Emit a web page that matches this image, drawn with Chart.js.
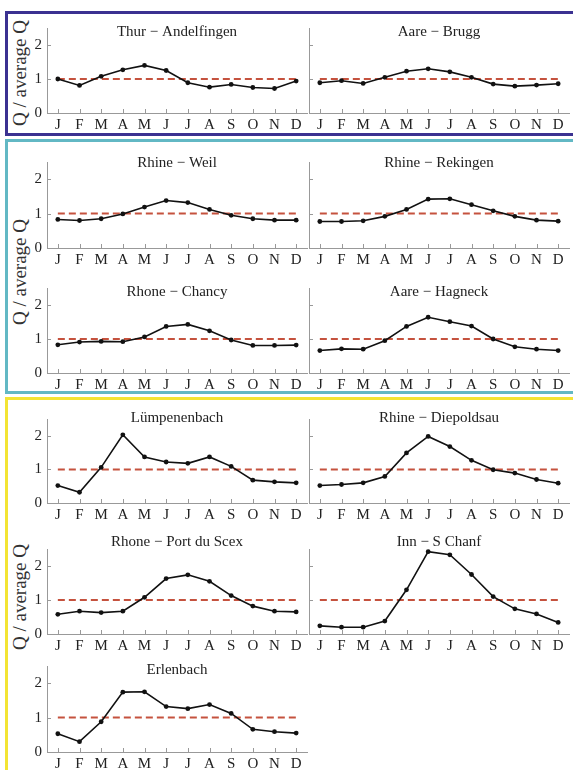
<!DOCTYPE html>
<html><head><meta charset="utf-8">
<script src="https://cdn.jsdelivr.net/npm/chart.js@4.4.0/dist/chart.umd.min.js"></script>
<style>
html,body{margin:0;padding:0;background:#fff;}
#page{position:relative;width:573px;height:770px;overflow:hidden;background:#fff;}
.frame{position:absolute;box-sizing:border-box;border:3px solid;}
.ylab{position:absolute;font-family:"Liberation Serif","Times New Roman",serif;font-size:19px;color:#333;white-space:nowrap;transform:translate(-50%,-50%) rotate(-90deg);}
canvas{position:absolute;}
</style></head><body>
<div id="page">
  <div class="frame" style="left:5px;top:11px;width:590px;height:125px;border-color:#3b3191"></div>
  <div class="frame" style="left:5px;top:139px;width:590px;height:255px;border-color:#62b8c4"></div>
  <div class="frame" style="left:5px;top:397px;width:590px;height:400px;border-color:#f3e434"></div>
  <div class="ylab" style="left:20px;top:73px">Q / average Q</div>
  <div class="ylab" style="left:20px;top:272px">Q / average Q</div>
  <div class="ylab" style="left:20px;top:597px">Q / average Q</div>
</div>
<script>
// ---- data ----
const months = ['J','F','M','A','M','J','J','A','S','O','N','D'];
const yTicks = [0, 1, 2];
const meanLine = [1,1,1,1,1,1,1,1,1,1,1,1];

const thurAndelfingen  = [1.00,0.81,1.08,1.27,1.40,1.25,0.89,0.76,0.84,0.75,0.72,0.94];
const aareBrugg        = [0.89,0.95,0.87,1.05,1.23,1.30,1.21,1.05,0.85,0.79,0.82,0.86];
const rhineWeil        = [0.83,0.80,0.85,0.99,1.19,1.38,1.32,1.12,0.95,0.85,0.81,0.81];
const rhineRekingen    = [0.77,0.77,0.79,0.92,1.12,1.42,1.43,1.26,1.08,0.92,0.81,0.78];
const rhoneChancy      = [0.83,0.91,0.93,0.92,1.06,1.37,1.43,1.24,0.97,0.81,0.81,0.82];
const aareHagneck      = [0.66,0.71,0.70,0.95,1.37,1.64,1.51,1.38,1.00,0.77,0.70,0.66];
const luempenenbach    = [0.52,0.32,1.06,2.03,1.37,1.22,1.18,1.37,1.09,0.68,0.63,0.60];
const rhineDiepoldsau  = [0.52,0.55,0.60,0.79,1.49,1.98,1.68,1.27,0.99,0.89,0.70,0.59];
const rhonePortDuScex  = [0.58,0.67,0.63,0.67,1.08,1.63,1.74,1.55,1.13,0.82,0.67,0.65];
const innSChanf        = [0.24,0.20,0.20,0.38,1.30,2.42,2.33,1.75,1.10,0.74,0.59,0.34];
const erlenbach        = [0.53,0.30,0.88,1.74,1.75,1.32,1.26,1.38,1.12,0.66,0.59,0.55];

const titles = ['Thur \u2212 Andelfingen','Aare \u2212 Brugg','Rhine \u2212 Weil','Rhine \u2212 Rekingen',
  'Rhone \u2212 Chancy','Aare \u2212 Hagneck','L\u00fcmpenenbach','Rhine \u2212 Diepoldsau',
  'Rhone \u2212 Port du Scex','Inn \u2212 S Chanf','Erlenbach'];
const series = [thurAndelfingen, aareBrugg, rhineWeil, rhineRekingen, rhoneChancy, aareHagneck,
  luempenenbach, rhineDiepoldsau, rhonePortDuScex, innSChanf, erlenbach];

// ---- layout ----
const cols = [{axisX:47}, {axisX:309}];
const rows = [
  {top:28,  bottom:113, titleY:32},
  {top:162, bottom:248, titleY:163},
  {top:288, bottom:373, titleY:292},
  {top:419, bottom:503, titleY:418},
  {top:549, bottom:634, titleY:542},
  {top:666, bottom:752, titleY:670}
];
const PLOT_W = 260, YW = 25, XH = 22, PT = 24, PR = 6;
const FONT = '"Liberation Serif","Times New Roman",serif';

const panelDecor = {
  id: 'panelDecor',
  afterDraw(chart, args, opts) {
    const ctx = chart.ctx;
    const {left, right, bottom} = chart.chartArea;
    const x = chart.scales.x, y = chart.scales.y;
    ctx.save();
    ctx.strokeStyle = '#999'; ctx.lineWidth = 1;
    ctx.beginPath();
    for (let i = 0; i < months.length; i++) {
      const px = Math.round(x.getPixelForValue(i)) + 0.5;
      ctx.moveTo(px, bottom); ctx.lineTo(px, bottom - 4);
    }
    for (const v of yTicks) {
      const py = Math.round(y.getPixelForValue(v)) + 0.5;
      ctx.moveTo(left, py); ctx.lineTo(left + 4, py);
    }
    ctx.stroke();
    ctx.fillStyle = '#222';
    ctx.font = '15px ' + FONT;
    ctx.textAlign = 'center'; ctx.textBaseline = 'middle';
    ctx.fillText(opts.title, (left + right) / 2, opts.titleY);
    ctx.restore();
  }
};

const page = document.getElementById('page');
series.forEach((data, i) => {
  const col = cols[i % 2], row = rows[Math.floor(i / 2)];
  const plotH = row.bottom - row.top;
  const cv = document.createElement('canvas');
  const W = YW + PLOT_W + PR, H = PT + plotH + XH;
  const L = col.axisX - YW, T = row.top - PT;
  cv.width = W; cv.height = H;
  cv.style.left = L + 'px'; cv.style.top = T + 'px';
  cv.style.width = W + 'px'; cv.style.height = H + 'px';
  page.appendChild(cv);
  const showY = (i % 2 === 0);
  new Chart(cv, {
    type: 'line',
    data: {
      labels: months,
      datasets: [
        {data: data, borderColor: '#111', backgroundColor: '#111', borderWidth: 1.6,
         pointRadius: 2.4, pointBackgroundColor: '#111', pointBorderWidth: 0, tension: 0, clip: false},
        {data: meanLine, borderColor: '#c5523e', borderWidth: 2, borderDash: [7, 4],
         pointRadius: 0, tension: 0, clip: false}
      ]
    },
    options: {
      responsive: false, animation: false, devicePixelRatio: 1,
      layout: {autoPadding: false, padding: {top: PT, right: PR, left: 0, bottom: 0}},
      plugins: {legend: {display: false}, tooltip: {enabled: false},
        panelDecor: {title: titles[i], titleY: row.titleY - T}},
      events: [],
      scales: {
        x: {
          type: 'category', offset: true,
          grid: {display: false, drawTicks: false},
          border: {display: true, color: '#999', width: 1},
          ticks: {autoSkip: false, maxRotation: 0, minRotation: 0, padding: 3,
            color: '#222', font: {family: FONT, size: 15}},
          afterFit(s) { s.height = XH; }
        },
        y: {
          min: 0, max: 2.5,
          grid: {display: false, drawTicks: false},
          border: {display: true, color: '#999', width: 1},
          ticks: {display: showY, stepSize: 1, includeBounds: false, padding: 5,
            color: '#222', font: {family: FONT, size: 15},
            callback: v => (yTicks.includes(v) ? String(v) : '')},
          afterFit(s) { s.width = YW; }
        }
      }
    },
    plugins: [panelDecor]
  });
});
</script>
</body></html>
